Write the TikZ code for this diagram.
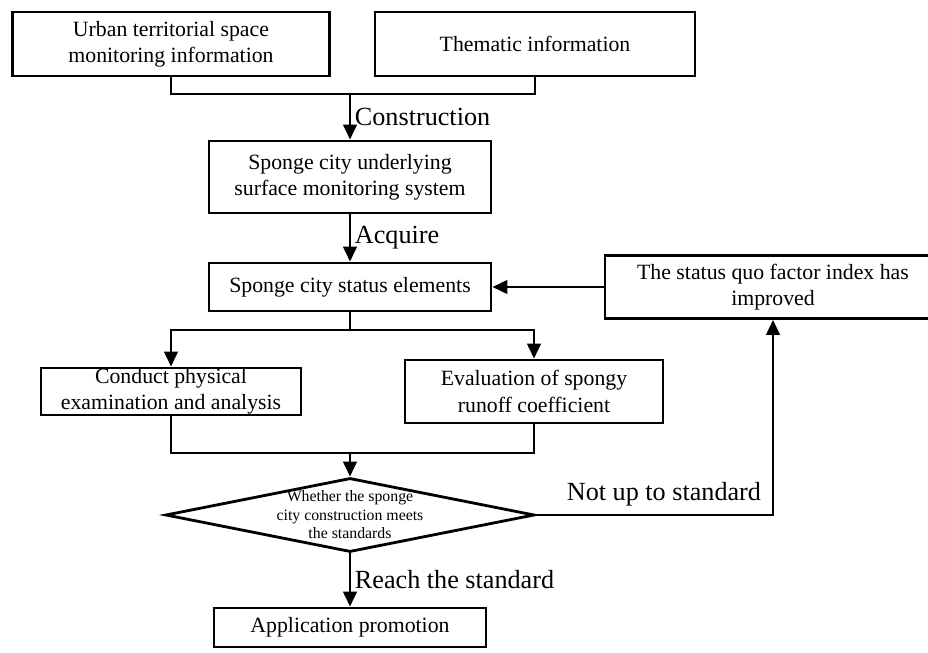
\documentclass[tikz,border=0pt]{standalone}
\usepackage{fontspec}
\setmainfont{Liberation Serif}
\usepackage{tikz}
\usetikzlibrary{positioning,arrows.meta,shapes.geometric}

\begin{document}
\begin{tikzpicture}[
    line width=1.6pt,
    box/.style={
        draw,
        fill=white,
        align=center,
        inner sep=0pt,
        font=\fontsize{12.4}{15}\selectfont
    },
    decide/.style={
        diamond,
        draw,
        aspect=5,
        inner sep=-1pt,
        align=center,
        minimum width=7.38cm,
        minimum height=1.48cm,
        font=\fontsize{9}{10.5}\selectfont
    },
    lbl/.style={
        font=\fontsize{14.9}{18}\selectfont,
        inner sep=2pt
    },
    arrow/.style={
        -{Triangle[width=0.27cm,length=0.3cm]}
    }
]
\useasboundingbox (0,0) rectangle (18.56,13.04);
\node[box, minimum width=6.34cm, minimum height=1.28cm] (U) at (3.42,12.16)
{Urban territorial space\\
monitoring information};
\node[box, minimum width=6.40cm, minimum height=1.28cm] (T) at (10.70,12.16)
{Thematic information};
\node[box, minimum width=5.64cm, minimum height=1.44cm] (S) at (7.0,9.50)
{Sponge city underlying\\
surface monitoring system};
\node[box, minimum width=5.64cm, minimum height=0.96cm] (E) at (7.0,7.30)
{Sponge city status elements};
\node[box, minimum width=6.72cm, minimum height=1.26cm] (Q) at (15.46,7.30)
{The status quo factor index has\\
improved};
\node[box, minimum width=5.20cm, minimum height=0.94cm] (P) at (3.42,5.21)
{Conduct physical\\
examination and analysis};
\node[box, minimum width=5.16cm, minimum height=1.26cm] (R) at (10.68,5.21)
{Evaluation of spongy\\
runoff coefficient};
\node[decide] (W) at (7.0,2.74)
{Whether the sponge\\
city construction meets\\
the standards};
\node[box, minimum width=5.44cm, minimum height=0.78cm] (A) at (7.0,0.49)
{Application promotion};
\coordinate (j1) at (7.0,11.16);
\coordinate (j2) at (7.0,6.44);
\coordinate (j3) at (7.0,3.98);
% top merge
\draw (U.south) |- (j1) -| (T.south);
\draw[arrow] (j1) -- node[lbl, right] {Construction} (S.north);
\draw[arrow] (S) -- node[lbl, right] {Acquire} (E);
\draw[arrow] (Q) -- (E);
% split into the two analyses
\draw (E.south) -- (j2);
\draw[arrow] (j2) -| (P.north);
\draw[arrow] (j2) -| (R.north);
\draw (P.south) |- (j3) -| (R.south);
\draw[arrow] (j3) -- (W.north);
% decision
\draw[arrow] (W.east) -| node[lbl, above, pos=0.27, yshift=2pt] {Not up to standard} (Q.south);
\draw[arrow] (W.south) -- node[lbl, right] {Reach the standard} (A.north);
\end{tikzpicture}
\end{document}
